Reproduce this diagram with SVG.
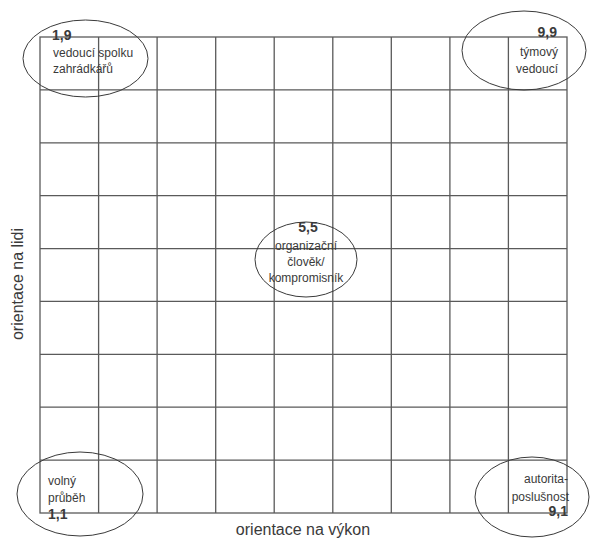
<svg xmlns="http://www.w3.org/2000/svg" width="591" height="540" viewBox="0 0 591 540">
<style>
.g{stroke:#5a5a5a;stroke-width:1.3;fill:none}
.e{stroke:#3a3a3a;stroke-width:1;fill:none}
text{font-family:"Liberation Sans",Arial,sans-serif;fill:#3a3a3a}
.t{font-size:12px}
.b{font-size:14px;font-weight:bold}
.ax{font-size:16px}
.m{text-anchor:middle}
.r{text-anchor:end}
</style>
<rect width="591" height="540" fill="#fff"/>
<g id="grid" class="g">
<rect x="40" y="37" width="527" height="476"/>
<path d="M98.6 37V513M157.1 37V513M215.7 37V513M274.2 37V513M332.8 37V513M391.3 37V513M449.9 37V513M508.4 37V513"/>
<path d="M40 89.9H567M40 142.8H567M40 195.7H567M40 248.6H567M40 301.4H567M40 354.3H567M40 407.2H567M40 460.1H567"/>
</g>
<g id="n19">
<ellipse class="e" cx="85.5" cy="58.5" rx="62.5" ry="38.5"/>
<text class="b" x="52" y="40">1,9</text>
<text class="t" x="53" y="57">vedoucí spolku</text>
<text class="t" x="53" y="73">zahrádkářů</text>
</g>
<g id="n99">
<ellipse class="e" cx="524" cy="50.5" rx="62" ry="39.5"/>
<text class="b r" x="557" y="37">9,9</text>
<text class="t r" x="558" y="56">týmový</text>
<text class="t r" x="558" y="73">vedoucí</text>
</g>
<g id="n55">
<ellipse class="e" cx="306" cy="259.5" rx="51" ry="37.5"/>
<text class="b m" x="308" y="232">5,5</text>
<text class="t m" x="306" y="250">organizační</text>
<text class="t m" x="306" y="266">člověk/</text>
<text class="t m" x="306" y="282">kompromisník</text>
</g>
<g id="n11">
<ellipse class="e" cx="80" cy="494" rx="63" ry="42"/>
<text class="t" x="48" y="485">volný</text>
<text class="t" x="48" y="502">průběh</text>
<text class="b" x="48" y="519">1,1</text>
</g>
<g id="n91">
<ellipse class="e" cx="532" cy="497" rx="57" ry="40"/>
<text class="t r" x="568" y="483">autorita-</text>
<text class="t r" x="569" y="501">poslušnost</text>
<text class="b r" x="568" y="516">9,1</text>
</g>
<g id="axes">
<text class="ax m" x="303" y="535">orientace na výkon</text>
<text class="ax m" transform="translate(23 284) rotate(-90)">orientace na lidi</text>
</g>
</svg>
